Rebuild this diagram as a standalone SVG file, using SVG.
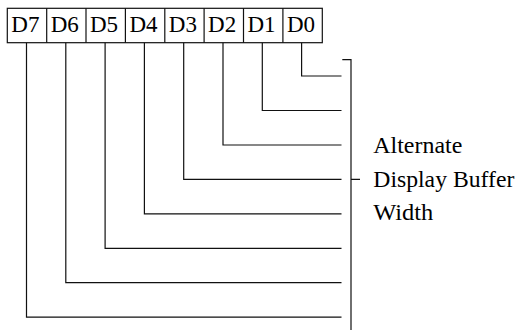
<svg xmlns="http://www.w3.org/2000/svg" width="519" height="330" viewBox="0 0 519 330">
<style>
.ln{stroke:#111;stroke-width:1.2;fill:none}
.t{font-family:"Liberation Serif","Times New Roman",serif;font-size:23px;fill:#000}
.r{font-family:"Liberation Serif","Times New Roman",serif;font-size:23px;fill:#000}
</style>
<rect width="519" height="330" fill="#fff"/>
<g id="register">
<rect class="ln" x="7.3" y="8.3" width="315" height="34.4"/>
<path class="ln" d="M46.7 8.3V42.7M86 8.3V42.7M125.4 8.3V42.7M164.8 8.3V42.7M204.1 8.3V42.7M243.5 8.3V42.7M282.9 8.3V42.7"/>
<text class="t" x="11.3" y="31.7">D7</text>
<text class="t" x="50.7" y="31.7">D6</text>
<text class="t" x="90" y="31.7">D5</text>
<text class="t" x="129.4" y="31.7">D4</text>
<text class="t" x="168.8" y="31.7">D3</text>
<text class="t" x="208.1" y="31.7">D2</text>
<text class="t" x="247.5" y="31.7">D1</text>
<text class="t" x="286.9" y="31.7">D0</text>
</g>
<g id="connectors">
<path class="ln" d="M301.6 42.7V76H341.5"/>
<path class="ln" d="M262.3 42.7V110.5H341.5"/>
<path class="ln" d="M223 42.7V145H341.5"/>
<path class="ln" d="M183.7 42.7V179.4H341.5"/>
<path class="ln" d="M144.4 42.7V213.8H341.5"/>
<path class="ln" d="M105.1 42.7V248.3H341.5"/>
<path class="ln" d="M65.8 42.7V282.7H341.5"/>
<path class="ln" d="M26.5 42.7V317.1H341.5"/>
</g>
<g id="bracket">
<path class="ln" d="M342.3 59.7H351V330M351 179.4H360"/>
</g>
<g id="label">
<text class="r" x="373.3" y="153.3" textLength="89" lengthAdjust="spacingAndGlyphs">Alternate</text>
<text class="r" x="373.3" y="186.7" textLength="141" lengthAdjust="spacingAndGlyphs">Display Buffer</text>
<text class="r" x="373.3" y="219.5" textLength="60" lengthAdjust="spacingAndGlyphs">Width</text>
</g>
</svg>
